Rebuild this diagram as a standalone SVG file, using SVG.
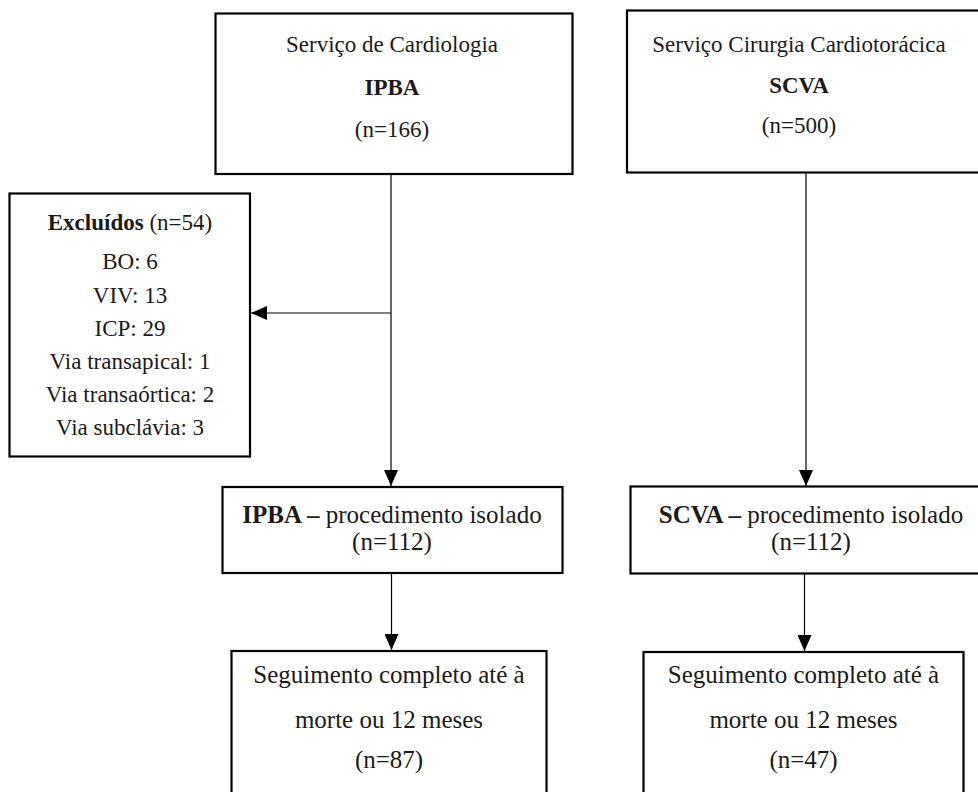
<svg xmlns="http://www.w3.org/2000/svg" width="978" height="792" viewBox="0 0 978 792">
<style>
.box{fill:#fff;stroke:#000;stroke-width:2.2}
.t{font-family:"Liberation Serif","Times New Roman",serif;fill:#1a1a1a;text-anchor:middle}
.s23{font-size:23px}
.s25{font-size:25px}
.b{font-weight:bold}
.ln{stroke:#000;stroke-width:1.2;fill:none}
</style>
<defs>
<marker id="ah" markerWidth="16" markerHeight="14" refX="16" refY="7" orient="auto" markerUnits="userSpaceOnUse">
<path d="M0,0 L16,7 L0,14 Z" fill="#000"/>
</marker>
</defs>
<rect width="978" height="792" fill="#fff"/>
<g id="connectors">
<line class="ln" x1="391" y1="174" x2="391" y2="486" marker-end="url(#ah)"/>
<line class="ln" x1="391" y1="313" x2="251" y2="313" marker-end="url(#ah)"/>
<line class="ln" x1="806" y1="171" x2="806" y2="486" marker-end="url(#ah)"/>
<line class="ln" x1="391.5" y1="573" x2="391.5" y2="650" marker-end="url(#ah)"/>
<line class="ln" x1="804.5" y1="566" x2="804.5" y2="651" marker-end="url(#ah)"/>
</g>
<g id="n-ipba">
<rect class="box" x="215.5" y="13.5" width="357" height="160.5"/>
<text class="t s23" x="392" y="52">Serviço de Cardiologia</text>
<text class="t s23 b" x="392" y="95">IPBA</text>
<text class="t s23" x="392" y="137">(n=166)</text>
</g>
<g id="n-scva">
<rect class="box" x="627" y="10.5" width="360" height="162"/>
<text class="t s23" x="799" y="52">Serviço Cirurgia Cardiotorácica</text>
<text class="t s23 b" x="799" y="93">SCVA</text>
<text class="t s23" x="799" y="133">(n=500)</text>
</g>
<g id="n-excluidos">
<rect class="box" x="9.5" y="193.5" width="240.5" height="263"/>
<text class="t s23" x="130" y="230"><tspan class="b">Excluídos</tspan> (n=54)</text>
<text class="t s23" x="130" y="269">BO: 6</text>
<text class="t s23" x="130" y="302.5">VIV: 13</text>
<text class="t s23" x="130" y="335.5">ICP: 29</text>
<text class="t s23" x="130" y="368.5">Via transapical: 1</text>
<text class="t s23" x="130" y="401.5">Via transaórtica: 2</text>
<text class="t s23" x="130" y="435">Via subclávia: 3</text>
</g>
<g id="n-ipba-proc">
<rect class="box" x="222.5" y="487" width="340" height="86"/>
<text class="t s25" x="392" y="523"><tspan class="b">IPBA –</tspan> procedimento isolado</text>
<text class="t s25" x="392" y="550">(n=112)</text>
</g>
<g id="n-scva-proc">
<rect class="box" x="630.5" y="486.5" width="360" height="87"/>
<text class="t s25" x="811" y="523"><tspan class="b">SCVA –</tspan> procedimento isolado</text>
<text class="t s25" x="811" y="550">(n=112)</text>
</g>
<g id="n-ipba-seg">
<rect class="box" x="231.5" y="651" width="315" height="160"/>
<text class="t s25" x="389" y="683">Seguimento completo até à</text>
<text class="t s25" x="389" y="728">morte ou 12 meses</text>
<text class="t s25" x="389" y="768">(n=87)</text>
</g>
<g id="n-scva-seg">
<rect class="box" x="643.5" y="652" width="320" height="160"/>
<text class="t s25" x="803.5" y="683">Seguimento completo até à</text>
<text class="t s25" x="803.5" y="728">morte ou 12 meses</text>
<text class="t s25" x="803.5" y="768">(n=47)</text>
</g>
</svg>
